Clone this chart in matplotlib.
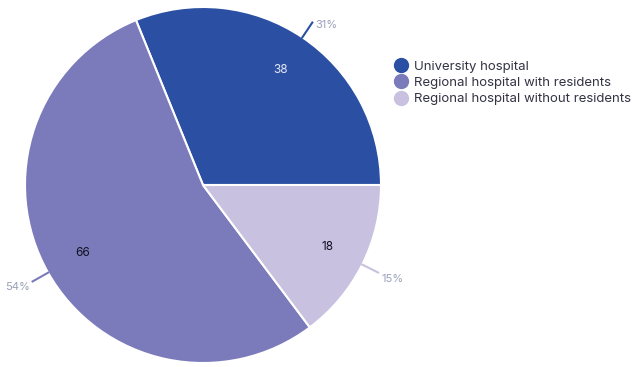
import matplotlib.pyplot as plt
from matplotlib.lines import Line2D
import numpy as np

labels = ["University hospital", "Regional hospital with residents",
          "Regional hospital without residents"]
counts = [38, 66, 18]
pct_labels = ["31%", "54%", "15%"]
colors = ["#2A4FA3", "#7B7BBB", "#C8C1E0"]
count_colors = ["#E6E9F5", "#111122", "#111122"]

plt.rcParams['font.family'] = ['Inter', 'DejaVu Sans']

fig = plt.figure(figsize=(6.32, 3.67), dpi=100)
ax = fig.add_axes([25 / 632, 4 / 367, 356 / 632, 356 / 367])

wedges, _ = ax.pie(counts, colors=colors, startangle=0, counterclock=True,
                   wedgeprops=dict(edgecolor="white", linewidth=1.5))
ax.set_xlim(-1, 1)
ax.set_ylim(-1, 1)
ax.set_aspect("equal")

for w, n, p, c, tc in zip(wedges, counts, pct_labels, colors, count_colors):
    mid = np.deg2rad((w.theta1 + w.theta2) / 2)
    cx, cy = np.cos(mid), np.sin(mid)
    ax.text(0.78 * cx, 0.78 * cy, str(n), ha="center", va="center",
            fontsize=8.5, color=tc)
    ax.plot([1.0 * cx, 1.10 * cx], [1.0 * cy, 1.10 * cy], color=c,
            linewidth=1.5, clip_on=False)
    ha = "left" if cx > 0 else "right"
    dx = 3 if cx > 0 else -3
    dy = -2 if cy > 0 else -6
    ax.annotate(p, (1.10 * cx, 1.10 * cy), xytext=(dx, dy),
                textcoords="offset pixels", ha=ha, va="center",
                fontsize=8, color="#9AA1BA", annotation_clip=False)

handles = [Line2D([], [], marker="o", linestyle="", markersize=10,
                  markerfacecolor=c, markeredgecolor=c) for c in colors]
fig.legend(handles, labels, loc="upper left",
           bbox_to_anchor=(388 / 632, 1 - 55 / 367),
           frameon=False, fontsize=9.5, handletextpad=0.35, labelspacing=0.32,
           labelcolor="#333344", handlelength=1.2, borderaxespad=0)

fig.savefig("out.png", dpi=100)
